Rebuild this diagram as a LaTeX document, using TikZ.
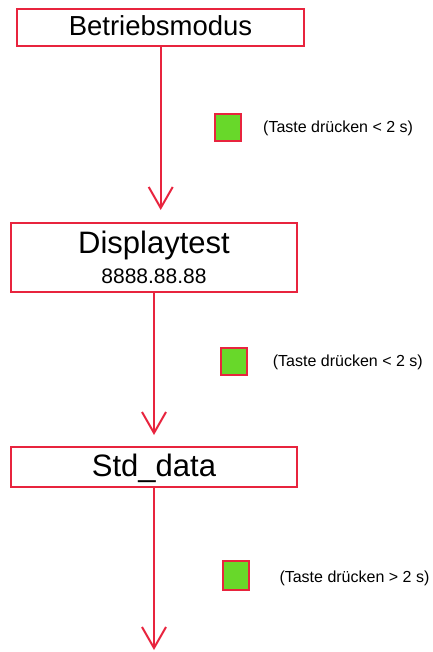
\documentclass[tikz,border=0pt]{standalone}
\usepackage{fontspec}
\setmainfont{Liberation Sans}
\usetikzlibrary{arrows.meta}
\definecolor{lred}{RGB}{232,36,62}
\definecolor{lgreen}{RGB}{104,216,42}
\tikzset{
  box/.style={draw=lred, line width=2pt, fill=white, inner sep=0pt, rectangle},
  key/.style={draw=lred, line width=2pt, fill=lgreen, inner sep=0pt, rectangle},
  flow/.style={draw=lred, line width=2pt, -{Straight Barb[length=21pt,width=24pt]}},
  lbl/.style={inner sep=0pt, anchor=base west, font=\fontsize{16}{18}\selectfont},
  big/.style={inner sep=0pt, anchor=base, text=black}
}
\begin{document}
\begin{tikzpicture}[x=1pt,y=-1pt]
\useasboundingbox (0,0) rectangle (432,652);
% boxes
\node[box, minimum width=287pt, minimum height=37pt] (b1) at (160.5,27.6) {};
\node[big, font=\fontsize{27.5}{30}\selectfont] (t1) at (160.5,36) {Betriebsmodus};
\node[box, minimum width=286.3pt, minimum height=69pt] (b2) at (153.9,257.2) {};
\node[big, font=\fontsize{31}{34}\selectfont] (t2) at (154,253.3) {Displaytest};
\node[big, font=\fontsize{21}{24}\selectfont] (t2b) at (154,283.3) {8888.88.88};
\node[box, minimum width=286.6pt, minimum height=40.6pt] (b3) at (154,467) {};
\node[big, font=\fontsize{31}{34}\selectfont] (t3) at (154,476) {Std\_data};
% tips
\coordinate (e1) at (160.7,210);
\coordinate (e2) at (154,435);
\coordinate (e3) at (154,650);
\draw[flow] (b1.south -| e1) -- (e1);
\draw[flow] (b2.south -| e2) -- (e2);
\draw[flow] (b3.south -| e3) -- (e3);
% keys
\node[key, minimum width=26pt, minimum height=27pt] (k1) at (227.5,128) {};
\node[key, minimum width=26pt, minimum height=27pt] (k2) at (234,361.2) {};
\node[key, minimum width=26pt, minimum height=29pt] (k3) at (235.8,575.2) {};
\node[lbl] (l1) at (263,132.7) {(Taste drücken < 2 s)};
\node[lbl] (l2) at (272.7,366.7) {(Taste drücken < 2 s)};
\node[lbl] (l3) at (279.3,582.3) {(Taste drücken > 2 s)};
\end{tikzpicture}
\end{document}
